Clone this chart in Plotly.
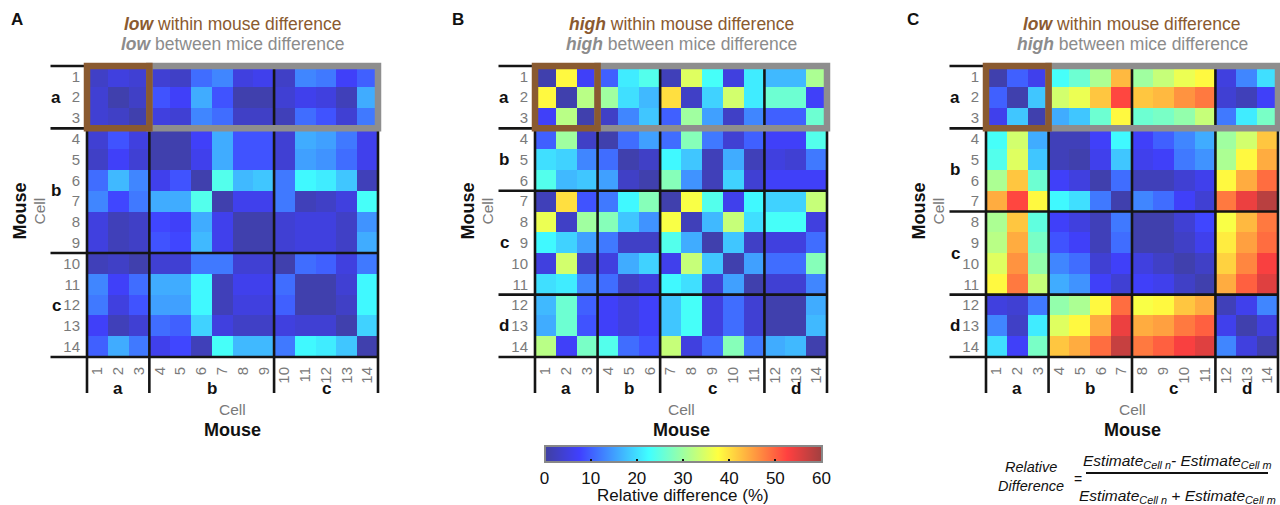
import plotly.graph_objects as go

W, H = 1280, 505
DY = 1.5  # small nudge for annotation text
def px(x): return x / W
def py(y): return 1 - y / H
def pya(y): return 1 - (y + DY) / H

cells = list(range(1, 15))
cell_labels = [str(c) for c in cells]

A_groups = [("a", 3), ("b", 6), ("c", 5)]
B_groups = [("a", 3), ("b", 3), ("c", 5), ("d", 3)]
C_groups = [("a", 3), ("b", 4), ("c", 4), ("d", 3)]

A_vals = [
    [3, 5, 4, 4, 3, 11, 13, 5, 6, 3, 13, 12, 7, 10],
    [4, 1, 3, 9, 7, 16, 9, 1, 1, 4, 6, 5, 2, 16],
    [4, 3, 1, 5, 4, 13, 11, 3, 3, 2, 11, 9, 4, 12],
    [4, 9, 5, 1, 1, 7, 16, 9, 9, 4, 16, 15, 12, 6],
    [3, 7, 4, 1, 1, 6, 16, 9, 9, 4, 15, 14, 11, 6],
    [11, 17, 13, 6, 9, 1, 24, 17, 18, 12, 22, 21, 18, 2],
    [13, 8, 12, 16, 16, 24, 1, 6, 6, 12, 2, 3, 5, 23],
    [5, 2, 3, 8, 7, 16, 6, 1, 1, 4, 5, 5, 3, 14],
    [5, 2, 3, 9, 8, 17, 6, 1, 1, 4, 5, 5, 3, 16],
    [2, 3, 1, 4, 4, 12, 12, 4, 4, 1, 11, 10, 5, 12],
    [13, 7, 11, 16, 16, 22, 2, 6, 6, 11, 1, 1, 4, 22],
    [12, 5, 9, 15, 15, 22, 2, 5, 5, 10, 1, 1, 3, 22],
    [7, 2, 4, 11, 10, 19, 5, 3, 3, 5, 4, 4, 1, 19],
    [10, 16, 12, 6, 8, 2, 23, 17, 17, 12, 22, 21, 18, 1],
]

B_vals = [
    [1, 38, 7, 10, 21, 24, 2, 35, 23, 5, 21, 17, 17, 31],
    [38, 1, 32, 30, 20, 17, 40, 3, 19, 34, 21, 26, 26, 7],
    [7, 32, 1, 3, 13, 18, 10, 30, 15, 3, 13, 10, 10, 26],
    [10, 30, 3, 1, 11, 15, 11, 28, 12, 4, 10, 7, 7, 24],
    [20, 19, 13, 11, 1, 3, 22, 18, 2, 16, 2, 5, 4, 12],
    [24, 17, 18, 15, 3, 1, 28, 14, 2, 19, 4, 7, 7, 7],
    [2, 40, 9, 12, 22, 28, 1, 37, 24, 6, 22, 19, 19, 33],
    [36, 3, 30, 28, 18, 14, 37, 2, 17, 33, 20, 23, 23, 5],
    [22, 19, 15, 12, 3, 3, 24, 16, 1, 18, 3, 5, 5, 11],
    [5, 34, 3, 5, 16, 19, 6, 33, 18, 1, 15, 11, 11, 28],
    [20, 21, 13, 11, 3, 5, 22, 20, 4, 15, 1, 4, 4, 13],
    [17, 26, 10, 7, 5, 7, 18, 23, 5, 11, 4, 1, 1, 16],
    [16, 26, 9, 7, 5, 7, 18, 23, 5, 11, 4, 1, 1, 17],
    [32, 7, 27, 24, 11, 9, 33, 5, 11, 28, 12, 16, 17, 1],
]

C_vals = [
    [1, 10, 6, 23, 26, 31, 43, 30, 33, 36, 38, 5, 13, 20],
    [10, 1, 18, 34, 36, 42, 52, 42, 43, 46, 48, 4, 2, 7],
    [6, 18, 1, 16, 18, 26, 38, 26, 27, 29, 33, 12, 21, 27],
    [23, 34, 16, 2, 2, 7, 22, 7, 10, 13, 16, 30, 34, 42],
    [24, 35, 18, 2, 1, 6, 18, 6, 7, 12, 14, 31, 38, 44],
    [31, 42, 26, 7, 5, 1, 11, 2, 2, 4, 6, 38, 44, 49],
    [44, 52, 38, 22, 20, 12, 1, 13, 11, 7, 4, 48, 54, 58],
    [31, 42, 25, 7, 5, 2, 12, 1, 1, 4, 8, 37, 43, 48],
    [32, 44, 27, 9, 7, 2, 11, 1, 1, 3, 6, 39, 45, 49],
    [35, 46, 29, 13, 11, 4, 7, 5, 3, 1, 3, 41, 47, 53],
    [38, 48, 33, 16, 14, 7, 4, 7, 6, 3, 1, 44, 50, 55],
    [5, 4, 12, 29, 31, 38, 49, 37, 38, 42, 44, 2, 6, 13],
    [13, 3, 21, 35, 38, 44, 54, 44, 45, 48, 50, 6, 1, 5],
    [20, 7, 27, 42, 44, 49, 57, 48, 50, 53, 55, 13, 5, 1],
]

within_words = ["low", "high", "low"]
between_words = ["low", "high", "high"]
panel_letters = ["A", "B", "C"]
cbar_ticks = [0, 10, 20, 30, 40, 50, 60]

FONT = "Liberation Sans, Arial, sans-serif"
BROWN = "#8a5a30"
GREY_BOX = "#8e8e8e"
GREY_TXT = "#8c8c8c"
TICK_GREY = "#7a7a7a"

jet_soft = [
    [0.0, "rgb(64,64,160)"],
    [0.125, "rgb(64,64,255)"],
    [0.375, "rgb(64,255,255)"],
    [0.625, "rgb(255,255,64)"],
    [0.875, "rgb(255,64,64)"],
    [1.0, "rgb(160,64,64)"],
]

TOP, BOT = 66, 357
panels = [
    dict(z=A_vals, groups=A_groups, x0=87, x1=378, lx=17),
    dict(z=B_vals, groups=B_groups, x0=535, x1=827, lx=458),
    dict(z=C_vals, groups=C_groups, x0=986, x1=1278, lx=913),
]

fig = go.Figure()
annotations = []
shapes = []
layout_axes = {}

for i, p in enumerate(panels):
    s = "" if i == 0 else str(i + 1)
    wpx = p["x1"] - p["x0"]
    hpx = BOT - TOP
    fig.add_trace(go.Heatmap(
        z=p["z"], x=cells, y=cells, xaxis="x" + s, yaxis="y" + s,
        colorscale=jet_soft, zmin=0, zmax=60,
        showscale=(i == 1),
        colorbar=dict(
            orientation="h", x=px(683), xanchor="center", y=py(446), yanchor="top",
            len=277, lenmode="pixels", thickness=16, xpad=0, ypad=0,
            outlinecolor="#888888", outlinewidth=2,
            ticks="inside", ticklen=4, tickcolor="#111111", tickwidth=1.5,
            tickvals=cbar_ticks, tickfont=dict(family=FONT, size=17, color="#111111"),
        ) if i == 1 else None,
        hoverinfo="skip",
    ))
    layout_axes["xaxis" + s] = dict(
        domain=[px(p["x0"]), px(p["x1"])], range=[0.5, 14.5], anchor="y" + s,
        tickvals=cells, ticktext=cell_labels, tickangle=-90,
        ticks="outside", ticklen=3, tickcolor="rgba(0,0,0,0)",
        tickfont=dict(family=FONT, size=15, color=TICK_GREY),
        showgrid=False, zeroline=False, showline=False, fixedrange=True,
    )
    layout_axes["yaxis" + s] = dict(
        domain=[py(BOT), py(TOP)], range=[14.5, 0.5], anchor="x" + s,
        tickvals=cells, ticktext=cell_labels,
        ticks="outside", ticklen=3, tickcolor="rgba(0,0,0,0)",
        tickfont=dict(family=FONT, size=15, color=TICK_GREY),
        showgrid=False, zeroline=False, showline=False, fixedrange=True,
    )

    xd, yd = "x" + s + " domain", "y" + s + " domain"
    left_ext = -36.5 / wpx
    bot_ext = -(393 - BOT) / hpx
    bounds = [0]
    for _, n in p["groups"]:
        bounds.append(bounds[-1] + n)
    for k in bounds:
        f = k / 14
        shapes.append(dict(type="line", xref=xd, yref=yd, x0=f, x1=f, y0=1, y1=bot_ext,
                           line=dict(color="#151515", width=2.6), layer="above"))
        shapes.append(dict(type="line", xref=xd, yref=yd, x0=left_ext, x1=1, y0=1 - f, y1=1 - f,
                           line=dict(color="#151515", width=2.6), layer="above"))
    n0 = p["groups"][0][1]
    shapes.append(dict(type="rect", xref=xd, yref=yd, x0=n0 / 14, x1=1, y0=1, y1=1 - n0 / 14,
                       line=dict(color=GREY_BOX, width=6.5), layer="above"))
    shapes.append(dict(type="rect", xref=xd, yref=yd, x0=0, x1=n0 / 14, y0=1, y1=1 - n0 / 14,
                       line=dict(color=BROWN, width=6.5), layer="above"))

    # group labels
    start = 0
    for name, n in p["groups"]:
        c = start + (n + 1) / 2
        start += n
        annotations.append(dict(text="<b>%s</b>" % name, xref="paper", yref="y" + s,
                                x=px(p["x0"] - 31), y=c, showarrow=False,
                                xanchor="center", yanchor="middle",
                                font=dict(family=FONT, size=17, color="#111111")))
        annotations.append(dict(text="<b>%s</b>" % name, xref="x" + s, yref="paper",
                                x=c, y=pya(387), showarrow=False,
                                xanchor="center", yanchor="middle",
                                font=dict(family=FONT, size=17, color="#111111")))

    cx = (p["x0"] + p["x1"]) / 2
    cy = (TOP + BOT) / 2
    annotations += [
        dict(text="<b>%s</b>" % panel_letters[i], xref="paper", yref="paper",
             x=px(p["lx"]), y=pya(18), showarrow=False, xanchor="center", yanchor="middle",
             font=dict(family=FONT, size=17, color="#111111")),
        dict(text="<b><i>%s</i></b> within mouse difference" % within_words[i],
             xref="paper", yref="paper", x=px(cx), y=pya(22), showarrow=False,
             xanchor="center", yanchor="middle",
             font=dict(family=FONT, size=17.5, color=BROWN)),
        dict(text="<b><i>%s</i></b> between mice difference" % between_words[i],
             xref="paper", yref="paper", x=px(cx), y=pya(43), showarrow=False,
             xanchor="center", yanchor="middle",
             font=dict(family=FONT, size=17.5, color=GREY_TXT)),
        dict(text="Cell", xref="paper", yref="paper", x=px(p["x0"] - 48), y=py(cy),
             textangle=-90, showarrow=False, xanchor="center", yanchor="middle",
             font=dict(family=FONT, size=15.5, color=TICK_GREY)),
        dict(text="<b>Mouse</b>", xref="paper", yref="paper", x=px(p["x0"] - 67), y=py(cy),
             textangle=-90, showarrow=False, xanchor="center", yanchor="middle",
             font=dict(family=FONT, size=18, color="#111111")),
        dict(text="Cell", xref="paper", yref="paper", x=px(cx), y=pya(408),
             showarrow=False, xanchor="center", yanchor="middle",
             font=dict(family=FONT, size=15.5, color=TICK_GREY)),
        dict(text="<b>Mouse</b>", xref="paper", yref="paper", x=px(cx), y=pya(428),
             showarrow=False, xanchor="center", yanchor="middle",
             font=dict(family=FONT, size=18, color="#111111")),
    ]

# colorbar title
annotations.append(dict(text="Relative difference (%)", xref="paper", yref="paper",
                        x=px(683), y=pya(494), showarrow=False,
                        xanchor="center", yanchor="middle",
                        font=dict(family=FONT, size=17, color="#111111")))

# formula
annotations += [
    dict(text="<i>Relative</i>", xref="paper", yref="paper", x=px(1031), y=pya(465),
         showarrow=False, xanchor="center", yanchor="middle",
         font=dict(family=FONT, size=14.5, color="#111111")),
    dict(text="<i>Difference</i>", xref="paper", yref="paper", x=px(1031), y=pya(484),
         showarrow=False, xanchor="center", yanchor="middle",
         font=dict(family=FONT, size=14.5, color="#111111")),
    dict(text="=", xref="paper", yref="paper", x=px(1077.5), y=pya(477),
         showarrow=False, xanchor="center", yanchor="middle",
         font=dict(family=FONT, size=14, color="#111111")),
    dict(text="<i>Estimate<sub>Cell n</sub>- Estimate<sub>Cell m</sub></i>",
         xref="paper", yref="paper", x=px(1177.5), y=pya(459.5),
         showarrow=False, xanchor="center", yanchor="middle",
         font=dict(family=FONT, size=15.5, color="#111111")),
    dict(text="<i>Estimate<sub>Cell n</sub> + Estimate<sub>Cell m</sub></i>",
         xref="paper", yref="paper", x=px(1177.5), y=pya(495),
         showarrow=False, xanchor="center", yanchor="middle",
         font=dict(family=FONT, size=15.5, color="#111111")),
]
shapes.append(dict(type="line", xref="paper", yref="paper", x0=px(1086), x1=px(1268),
                   y0=py(473), y1=py(473), line=dict(color="#111111", width=2)))

fig.update_layout(
    width=W, height=H, margin=dict(l=0, r=0, t=0, b=0),
    paper_bgcolor="white", plot_bgcolor="white",
    font=dict(family=FONT),
    annotations=annotations, shapes=shapes, showlegend=False,
    **layout_axes,
)

fig.write_html(
    "out.html",
    config={"displayModeBar": False},
    post_script="document.body.style.margin='0';document.body.style.padding='0';"
                "document.body.style.overflow='hidden';",
)
